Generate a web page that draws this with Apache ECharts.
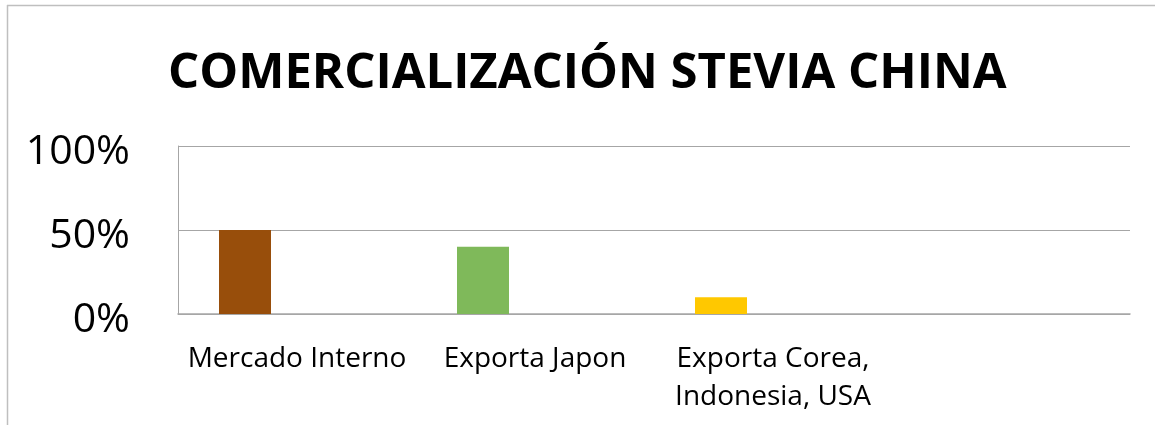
<!DOCTYPE html>
<html>
<head>
<meta charset="utf-8">
<script src="https://cdn.jsdelivr.net/npm/echarts@6/dist/echarts.min.js"></script>
<style>
html, body { margin: 0; padding: 0; background: #fff; }
#chart { width: 1155px; height: 425px; }
</style>
</head>
<body>
<div id="chart"></div>
<script>
// datos
var categorias = ['Mercado Interno', 'Exporta Japon', 'Exporta Corea,\nIndonesia, USA', ''];
var porcentajes = [50, 40, 10, '-'];
var colores = ['#984E0B', '#7FB95A', '#FFC800', '#4F81BD'];
var vacia = ['-', '-', '-', '-'];
var ticksY = [0, 50, 100];

var chartDom = document.getElementById('chart');
var myChart = echarts.init(chartDom);
var option;

option = {
	animation: false,
	title: {
		text: 'COMERCIALIZACIÓN STEVIA CHINA',
		left: 163,
		top: 45,
		textStyle: {
			fontFamily: 'Open Sans',
			fontWeight: 'bold',
			fontSize: 49,
			color: '#000',
		},
	},
	grid: {
		left: 178,
		right: 25,
		top: 146,
		bottom: 111,
	},
	xAxis: {
		type: 'category',
		data: categorias,
		axisTick: { show: false },
		axisLine: { lineStyle: { color: '#a6a6a6', width: 1.5 } },
		axisLabel: {
			interval: 0,
			margin: 26,
			fontFamily: 'Open Sans',
			fontSize: 28,
			lineHeight: 38,
			color: '#000',
		},
	},
	yAxis: {
		type: 'value',
		min: ticksY[0],
		max: ticksY[ticksY.length - 1],
		interval: 50,
		axisLine: { show: true, lineStyle: { color: '#a6a6a6' } },
		axisTick: { show: false },
		splitLine: { lineStyle: { color: '#a6a6a6', width: 1 } },
		axisLabel: {
			margin: 48,
			color: '#000',
			formatter: '{a|{value}%}',
			rich: {
				a: {
					fontFamily: 'Open Sans',
					fontSize: 41,
					color: '#000',
					padding: [12, 0, 0, 0],
				},
			},
		},
	},
	series: [
		{
			type: 'bar',
			barWidth: 52,
			barGap: '0%',
			data: porcentajes.map(function (v, i) {
				return { value: v, itemStyle: { color: colores[i] } };
			}),
		},
		{ type: 'bar', barWidth: 52, barGap: '0%', data: vacia },
		{ type: 'bar', barWidth: 52, barGap: '0%', data: vacia },
	],
	graphic: [
		{ type: 'line', shape: { x1: 7, y1: 5.5, x2: 1155, y2: 5.5 }, style: { stroke: '#bfbfbf', lineWidth: 1.5 } },
		{ type: 'line', shape: { x1: 7.5, y1: 5, x2: 7.5, y2: 425 }, style: { stroke: '#bfbfbf', lineWidth: 1.5 } },
	],
};
myChart.setOption(option);
</script>
</body>
</html>
